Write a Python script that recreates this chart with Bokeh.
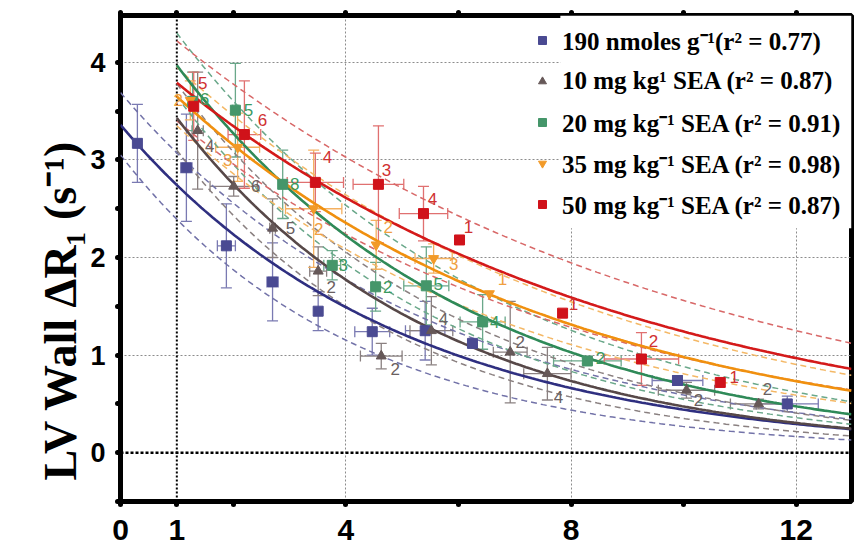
import numpy as np
from bokeh.plotting import figure
from bokeh.models import (ColumnDataSource, Range1d, FixedTicker, LinearAxis, Span,
                          Whisker, TeeHead, Legend, LegendItem, BoxAnnotation, Title)
from bokeh.core.properties import value
from bokeh.embed import file_html
from bokeh.resources import INLINE

# ---- series data: time (x), ΔR1 (y), errors, point labels ----
legend_labels = [
    "190 nmoles g⁻¹(r² = 0.77)",
    "10 mg kg¹ SEA (r² = 0.87)",
    "20 mg kg⁻¹ SEA (r² = 0.91)",
    "35 mg kg⁻¹ SEA (r² = 0.98)",
    "50 mg kg⁻¹ SEA (r² = 0.87)",
]
y_title = "LV Wall ΔR₁ (s⁻¹)"

navy_x = [0.30, 1.17, 1.88, 2.70, 3.51, 4.47, 5.41, 6.25, 9.89, 11.84]
navy_y = [3.17, 2.92, 2.12, 1.75, 1.45, 1.24, 1.25, 1.12, 0.74, 0.50]
navy_yerr = [0.40, 0.55, 0.43, 0.40, 0.20, 0.24, 0.30, 0.0, 0.05, 0.08]
navy_xerr = [0.0, 0.10, 0.16, 0.10, 0.0, 0.31, 0.35, 0.0, 0.45, 0.55]
navy_lab = [""] * 10

gray_x = [1.37, 2.01, 2.70, 3.51, 4.63, 5.52, 6.92, 7.58, 10.05, 11.33]
gray_y = [3.30, 2.73, 2.30, 1.86, 0.99, 1.25, 1.03, 0.81, 0.64, 0.50]
gray_yerr = [0.60, 0.10, 0.30, 0.25, 0.13, 0.35, 0.52, 0.27, 0.08, 0.05]
gray_xerr = [0.10, 0.42, 0.05, 0.15, 0.37, 0.38, 0.30, 0.42, 0.50, 0.50]
gray_lab = ["4", "6", "5", "2", "2", "4", "2", "4", "2", "2"]

green_x = [1.28, 2.04, 2.88, 3.76, 4.53, 5.43, 6.43, 8.29]
green_y = [3.60, 3.51, 2.75, 1.92, 1.70, 1.71, 1.34, 0.94]
green_yerr = [0.30, 0.48, 0.35, 0.15, 0.25, 0.40, 0.28, 0.03]
green_xerr = [0.05, 0.05, 0.0, 0.15, 0.0, 0.40, 0.40, 0.60]
green_lab = ["6", "5", "8", "3", "2", "5", "4", "2"]

orange_x = [1.24, 2.08, 3.43, 4.54, 5.56, 6.55]
orange_y = [3.61, 3.13, 2.50, 2.13, 1.99, 1.63]
orange_yerr = [0.20, 0.35, 0.60, 0.25, 0.15, 0.0]
orange_xerr = [0.0, 0.39, 0.50, 0.0, 0.33, 0.0]
orange_lab = ["2", "3", "2", "2", "3", "1"]

red_x = [1.30, 2.20, 3.46, 4.58, 5.38, 6.02, 7.85, 9.25, 10.65]
red_y = [3.55, 3.26, 2.77, 2.75, 2.45, 2.18, 1.43, 0.96, 0.72]
red_yerr = [0.35, 0.55, 0.30, 0.60, 0.28, 0.0, 0.0, 0.27, 0.0]
red_xerr = [0.05, 0.29, 0.50, 0.45, 0.43, 0.0, 0.0, 0.66, 0.0]
red_lab = ["5", "6", "4", "3", "4", "1", "1", "2", "1"]

# ---- exponential fits y = A * exp(-k (x - x0)), with upper/lower confidence curves ----
fit_x0 = [0.0, 1.0, 1.0, 1.0, 1.0]
fit_A = [3.36, 3.43, 3.97, 3.65, 3.79]
fit_k = [0.203, 0.220, 0.193, 0.146, 0.124]
band_hi_A = [3.69, 3.78, 4.30, 3.95, 4.22]
band_hi_k = [0.183, 0.203, 0.176, 0.134, 0.1106]
band_lo_A = [3.05, 3.10, 3.65, 3.35, 3.40]
band_lo_k = [0.243, 0.242, 0.211, 0.158, 0.139]

# ---- styling ----
curve_colors = ["#2f2f80", "#574848", "#2f8a58", "#f0900f", "#d41a1a"]
marker_colors = ["#4a4a92", "#665858", "#45966a", "#f29a28", "#d0121a"]
band_colors = ["#7272a8", "#8a8080", "#6aa88a", "#f4b866", "#d86868"]
err_colors = ["#7a7ab2", "#8a8080", "#6aa88a", "#f4b060", "#e07070"]
label_colors = ["#4a4a92", "#6a6060", "#3a9a60", "#f0a040", "#d03030"]
markers = ["square", "triangle", "square", "inverted_triangle", "square"]

SERIF = "'Liberation Serif', 'Times New Roman', serif"
SANS = "'Liberation Sans', Arial, sans-serif"

# pixel offsets for the replicate numbers next to the points
navy_dx, navy_dy = [0] * 10, [0] * 10
gray_dx = [12, 22, 18, 13, 14, 12, 10, 11, 12, 9]
gray_dy = [15, 0, 0, 16, 13, -12, -10, 23, 10, -15]
green_dx = [12, 13, 12, 11, 12, 12, 12, 13]
green_dy = [-2, 0, 0, 0, 0, -2, 0, -3]
orange_dx = [-12, -10, 5, 12, 20, 13]
orange_dy = [0, 13, 20, -18, 5, -15]
red_dx = [9, 18, 12, 8, 9, 9, 11, 12, 14]
red_dy = [-23, -15, -25, -14, -15, -13, -9, -18, -5]

series = [
    (navy_x, navy_y, navy_xerr, navy_yerr, navy_lab, navy_dx, navy_dy),
    (gray_x, gray_y, gray_xerr, gray_yerr, gray_lab, gray_dx, gray_dy),
    (green_x, green_y, green_xerr, green_yerr, green_lab, green_dx, green_dy),
    (orange_x, orange_y, orange_xerr, orange_yerr, orange_lab, orange_dx, orange_dy),
    (red_x, red_y, red_xerr, red_yerr, red_lab, red_dx, red_dy),
]

X_MAX = 12.98
Y_MIN, Y_MAX = -0.5, 4.48
p = figure(width=854, height=548, x_range=Range1d(0, X_MAX), y_range=Range1d(Y_MIN, Y_MAX),
           output_backend="svg", toolbar_location=None,
           min_border_left=120, min_border_right=3, min_border_top=15, min_border_bottom=47,
           background_fill_color="white", border_fill_color="white")
p.outline_line_color = "black"
p.outline_line_width = 5

# grids
p.xgrid.ticker = FixedTicker(ticks=[4, 8, 12])
p.ygrid.ticker = FixedTicker(ticks=[1, 2, 3, 4])
for g in (p.xgrid, p.ygrid):
    g.grid_line_color = "#8c8c8c"
    g.grid_line_dash = "2 2"
    g.grid_line_width = 1

p.add_layout(Span(location=0, dimension="width", line_color="black", line_dash="3 2",
                  line_width=2.5, level="underlay"))
p.add_layout(Span(location=1, dimension="height", line_color="black", line_dash="2 2",
                  line_width=2, level="underlay"))

# axes: labelled ticks as major ticks, unlabelled ones as minor ticks drawn alike
x_major = [0, 1, 4, 8, 12]
x_minor = [2, 6, 10]
y_major = [0, 1, 2, 3, 4]
y_minor = [-0.5, 0.5, 1.5, 2.5, 3.5]


def style_axis(ax):
    ax.axis_line_color = None
    for pre in ("major", "minor"):
        setattr(ax, pre + "_tick_line_width", 5)
        setattr(ax, pre + "_tick_line_cap", "round")
        setattr(ax, pre + "_tick_line_color", "black")
        setattr(ax, pre + "_tick_out", 3)
        setattr(ax, pre + "_tick_in", 0)
    ax.major_label_text_font_style = "bold"
    ax.major_label_text_color = "black"


xa = p.xaxis[0]
xa.ticker = FixedTicker(ticks=x_major, minor_ticks=x_minor)
style_axis(xa)
xa.major_label_text_font = SANS
xa.major_label_text_font_size = "30px"
xa.major_label_standoff = 15

ya = p.yaxis[0]
ya.ticker = FixedTicker(ticks=y_major, minor_ticks=y_minor)
style_axis(ya)
ya.major_label_text_font = SANS
ya.major_label_text_font_size = "27px"
ya.major_label_standoff = 12

top = LinearAxis(ticker=FixedTicker(ticks=[], minor_ticks=x_major + x_minor))
style_axis(top)
p.add_layout(top, "above")

# y-axis title, anchored at its lower end
p.add_layout(Title(text=y_title, align="left", offset=21, standoff=4,
                   text_font=SERIF, text_font_style="bold", text_font_size="46px",
                   text_color="black"), "left")

# confidence curves and fitted curves
for i in range(5):
    xs = np.linspace(fit_x0[i], X_MAX, 200)
    hi = band_hi_A[i] * np.exp(-band_hi_k[i] * (xs - fit_x0[i]))
    lo = band_lo_A[i] * np.exp(-band_lo_k[i] * (xs - fit_x0[i]))
    p.line(xs, hi, line_color=band_colors[i], line_width=1.5, line_dash="6 4")
    p.line(xs, lo, line_color=band_colors[i], line_width=1.5, line_dash="6 4")

for i in range(5):
    xs = np.linspace(fit_x0[i], X_MAX, 200)
    ys = fit_A[i] * np.exp(-fit_k[i] * (xs - fit_x0[i]))
    p.line(xs, ys, line_color=curve_colors[i], line_width=2.6)

# error bars, markers and replicate numbers
legend_items = []
for i, (sx, sy, sxe, sye, slab, sdx, sdy) in enumerate(series):
    sx, sy, sxe, sye = map(np.asarray, (sx, sy, sxe, sye))
    m = sye > 0
    ysrc = ColumnDataSource(dict(x=sx[m], lo=(sy - sye)[m], hi=(sy + sye)[m]))
    wy = Whisker(source=ysrc, base="x", lower="lo", upper="hi", dimension="height",
                 line_color=err_colors[i], line_width=1.3, level="underlay",
                 upper_head=TeeHead(size=11, line_color=err_colors[i], line_width=1.3),
                 lower_head=TeeHead(size=11, line_color=err_colors[i], line_width=1.3))
    p.add_layout(wy)
    m = sxe > 0
    xsrc = ColumnDataSource(dict(y=sy[m], lo=(sx - sxe)[m], hi=(sx + sxe)[m]))
    wx = Whisker(source=xsrc, base="y", lower="lo", upper="hi", dimension="width",
                 line_color=err_colors[i], line_width=1.3, level="underlay",
                 upper_head=TeeHead(size=11, line_color=err_colors[i], line_width=1.3),
                 lower_head=TeeHead(size=11, line_color=err_colors[i], line_width=1.3))
    p.add_layout(wx)

for i, (sx, sy, sxe, sye, slab, sdx, sdy) in enumerate(series):
    src = ColumnDataSource(dict(x=sx, y=sy))
    r = p.scatter("x", "y", source=src, marker=markers[i], size=10,
                  fill_color=marker_colors[i], line_color=marker_colors[i])
    keep = [j for j, t in enumerate(slab) if t]
    if keep:
        lsrc = ColumnDataSource(dict(x=[sx[j] for j in keep], y=[sy[j] for j in keep],
                                     lab=[slab[j] for j in keep], dx=[sdx[j] for j in keep],
                                     dy=[sdy[j] for j in keep]))
        p.text("x", "y", text="lab", source=lsrc, x_offset="dx", y_offset="dy",
               text_align="center", text_baseline="middle", text_font=value(SANS),
               text_font_size="17px", text_color=label_colors[i])
    legend_items.append(LegendItem(label=legend_labels[i], renderers=[r]))

# white panel behind legend text
p.add_layout(BoxAnnotation(left=7.81, right=X_MAX, bottom=2.3, top=Y_MAX,
                           fill_color="white", fill_alpha=1, line_color=None))

legend = Legend(items=legend_items, location=(412, 280), orientation="vertical",
                background_fill_alpha=0, border_line_color=None, padding=4, margin=0,
                glyph_width=20, glyph_height=34, label_height=34, spacing=7,
                label_standoff=10, label_text_font=SERIF,
                label_text_font_style="bold", label_text_font_size="25px",
                label_text_color="black", label_text_baseline="middle")
p.add_layout(legend)

open("out.html", "w").write(file_html(p, INLINE))
